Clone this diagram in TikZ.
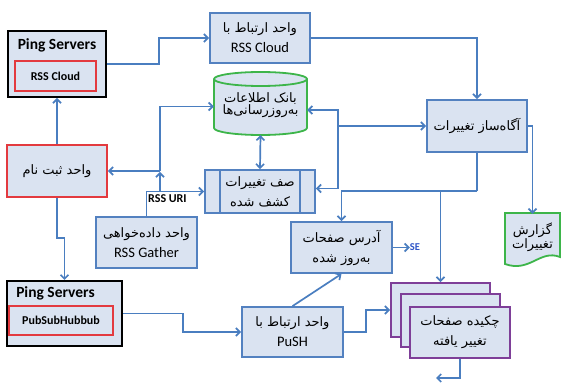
\documentclass[tikz,border=0pt]{standalone}
\usepackage{fontspec}
\setmainfont{Carlito}
\newfontfamily\farsifont[Script=Arabic]{DejaVu Sans}
\TeXXeTstate=1
\usetikzlibrary{arrows.meta,calc}
\newcommand{\prs}[1]{{\farsifont\fontsize{13}{20}\selectfont\beginR #1\endR}}
\definecolor{bxfill}{HTML}{DAE3F1}
\definecolor{bxblue}{HTML}{5381C0}
\definecolor{lnblue}{HTML}{4A7EC0}
\definecolor{bxred}{HTML}{E33A3F}
\definecolor{bxgreen}{HTML}{3DB54A}
\definecolor{bxpurple}{HTML}{7E3F98}
\definecolor{seblue}{HTML}{2F55C8}
\tikzset{
  box/.style={draw=bxblue, line width=1.8pt, fill=bxfill, align=center, inner sep=0pt, font=\fontsize{14.5}{20}\selectfont},
  redbox/.style={box, draw=bxred},
  pingbox/.style={draw=black, line width=2pt, fill=bxfill, inner sep=0pt},
  innerred/.style={draw=bxred, line width=1.8pt, fill=bxfill, inner sep=0pt, font=\bfseries\fontsize{12}{14}\selectfont},
  purplebox/.style={box, draw=bxpurple},
  plain/.style={inner sep=0pt},
  conn/.style={draw=lnblue, line width=1.7pt, -{Straight Barb[length=4pt,width=8pt]}},
  link/.style={draw=lnblue, line width=1.7pt},
}
\begin{document}
\begin{tikzpicture}[x=1pt,y=1pt]
\path[use as bounding box, fill=white] (0,0) rectangle (563,-387);

% Ping servers (RSS Cloud)
\node[pingbox, minimum width=98, minimum height=66] (pingrss) at (57,-64) {};
\node[plain, font=\bfseries\fontsize{15.5}{18}\selectfont] (pingrsstitle) at (57,-45) {Ping Servers};
\node[innerred, minimum width=81, minimum height=30] (rsscloud) at (55.5,-76) {RSS Cloud};

% RSS Cloud unit
\node[box, minimum width=100, minimum height=50] (cloudunit) at (260,-38) {\prs{واحد ارتباط با}\\RSS Cloud};

% bank cylinder
\path[fill=bxfill, draw=bxgreen, line width=1.8pt]
  (214,-79) -- (214,-128) arc[start angle=180, end angle=360, x radius=46.5, y radius=7]
  -- (307,-79) arc[start angle=0, end angle=180, x radius=46.5, y radius=7] -- cycle;
\draw[draw=bxgreen, line width=1.8pt] (214,-79) arc[start angle=180, end angle=360, x radius=46.5, y radius=7];
\node[plain, align=center, minimum width=93, minimum height=59] (bank) at (260.5,-105.5) {\prs{بانک اطلاعات}\\\prs{به‌روزرسانی‌ها}};

% notifier
\node[box, minimum width=100, minimum height=52] (notifier) at (477,-126) {\prs{آگاه‌ساز تغییرات}};

% register
\node[redbox, minimum width=100, minimum height=52] (register) at (57,-171) {\prs{واحد ثبت نام}};

% queue
\node[box, minimum width=110, minimum height=43] (queue) at (260,-191.5) {\prs{صف تغییرات}\\\prs{کشف شده}};
\draw[draw=bxblue, line width=1.8pt] (220,-170) -- (220,-213) (300,-170) -- (300,-213);

% gather
\node[box, minimum width=101, minimum height=51] (gather) at (146.5,-242.5) {\prs{واحد داده‌خواهی}\\RSS Gather};

% address
\node[box, minimum width=101, minimum height=51] (addr) at (341.5,-247.5) {\prs{آدرس صفحات}\\\prs{به‌روز شده}};
\node[plain, text=seblue, font=\bfseries\fontsize{10.5}{12}\selectfont] (se) at (415,-247.5) {SE};

% report document
\path[fill=bxfill, draw=bxgreen, line width=1.8pt]
  (505,-213) -- (560,-213) -- (560,-257) .. controls (540,-249) and (530,-273) .. (505,-264) -- cycle;
\node[plain, align=center, minimum width=55, minimum height=46] (report) at (532.5,-237) {\prs{گزارش}\\\prs{تغییرات}};

% Ping servers (PubSubHubbub)
\node[pingbox, minimum width=115, minimum height=65] (pingpush) at (64.5,-313.5) {};
\node[plain, font=\bfseries\fontsize{15.5}{18}\selectfont] (pingpushtitle) at (55.5,-293.5) {Ping Servers};
\node[innerred, minimum width=104, minimum height=29] (pubsub) at (61,-320.5) {PubSubHubbub};

% PuSH unit
\node[box, minimum width=101, minimum height=50] (pushunit) at (292.5,-332) {\prs{واحد ارتباط با}\\PuSH};

% summary stack
\node[purplebox, minimum width=99, minimum height=54] (box1) at (440.5,-310) {};
\node[purplebox, minimum width=99, minimum height=53] (box2) at (450.5,-320.5) {};
\node[purplebox, minimum width=100, minimum height=51] (box3) at (460,-332.5) {\prs{چکیده صفحات}\\\prs{تغییر یافته}};

% coordinates
\coordinate (j1) at (160,-191.5);
\coordinate (j1b) at (160,-171);
\coordinate (j2) at (338,-126);
\coordinate (j3) at (477,-191);
\coordinate (outend) at (436,-378);

% connectors
\draw[conn] (pingrss.east) -- ++(52,0) |- (cloudunit.west);
\draw[conn] (cloudunit.east) -| (notifier.north);
\draw[conn] (register.north) -- (pingrss.south);
\draw[conn] (register.south) -- ++(0,-40) -| (pingpush.north);
\draw[conn] (gather.north) |- (queue.west);
\node[plain, font=\bfseries\fontsize{12}{14}\selectfont, anchor=north west] (rssuri) at (148,-194) {RSS URI};
\draw[conn] (j1) -- ([yshift=-1pt]j1b);
\draw[conn] (j1b) -- (register.east);
\draw[conn] (j1b) |- ([yshift=-1pt]bank.west);
\draw[conn, {Straight Barb[length=4pt,width=8pt]}-{Straight Barb[length=4pt,width=8pt]}] (bank.south) -- (queue.north);
\draw[conn] (j2) -- (notifier.west);
\draw[conn] (j2) |- ([yshift=-4.5pt]bank.east);
\draw[conn] (j2) |- ([yshift=3pt]queue.east);
\draw[link] (notifier.south) -- (j3);
\draw[conn] (j3) -| (addr.north);
\draw[conn] (box1.north |- j3) -- (box1.north);
\draw[conn] (notifier.east) -| (report.north);
\draw[conn] (addr.east) -- (se.west);
\draw[conn] (pingpush.east) -- ++(60,0) |- (pushunit.west);
\draw[conn] (pushunit.north) -- (addr.south);
\draw[conn] (pushunit.east) -- ++(22,0) |- (box1.west);
\draw[conn] (box3.south) |- (outend);
\end{tikzpicture}
\end{document}
